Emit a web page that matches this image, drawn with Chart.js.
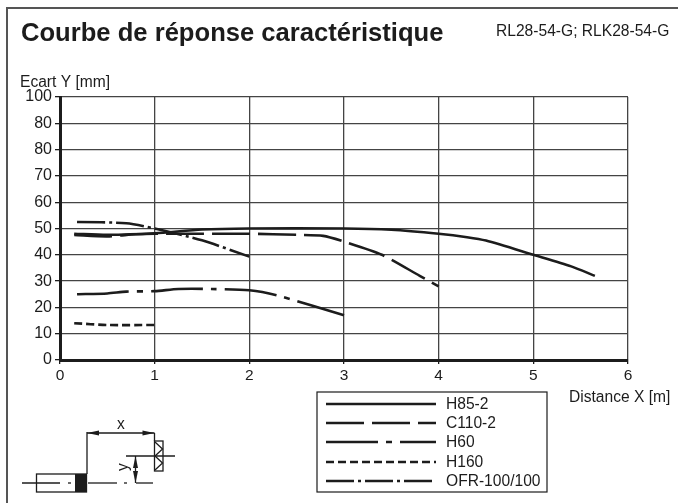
<!DOCTYPE html>
<html>
<head>
<meta charset="utf-8">
<title>Courbe de réponse caractéristique</title>
<script src="https://cdn.jsdelivr.net/npm/chart.js@4/dist/chart.umd.min.js"></script>
<style>
  html, body { margin: 0; padding: 0; background: #fff; }
  canvas { display: block; }
</style>
</head>
<body>
<canvas id="chart" width="678" height="503"></canvas>
<script>
const seriesNames = ['H85-2', 'C110-2', 'H60', 'H160', 'OFR-100/100'];

const h85 = [[0.15, 48], [0.5, 47.6], [1, 48.2], [1.5, 49.6], [2, 50], [3, 50], [3.5, 49.5], [4, 48], [4.3, 46.7], [4.5, 45.4], [5, 40], [5.4, 35.6], [5.65, 32]];
const c110 = [[0.15, 47.5], [0.5, 47], [0.8, 47.8], [1, 48], [1.5, 48], [2, 48], [2.5, 47.6], [2.78, 47.2], [3, 45], [3.4, 40], [3.8, 32], [4, 28]];
const h60 = [[0.18, 25], [0.5, 25.3], [0.7, 26], [1, 26.2], [1.25, 27], [1.6, 27], [2, 26.5], [2.3, 24.5], [3, 17]];
const h160 = [[0.15, 14], [0.5, 13.3], [1, 13.3]];
const ofr = [[0.18, 52.5], [0.7, 52], [1, 50], [1.5, 45.5], [2, 39.3]];

const xTicks = [0, 1, 2, 3, 4, 5, 6];
// the sheet really prints 80 twice, at 80 and at 90
const yTickLabels = ['0', '10', '20', '30', '40', '50', '60', '70', '80', '80', '100'];

const dashes = [[], [38, 8], [52, 8, 6, 8], [8, 4], [28, 4, 3, 4]];

const FONT = '"Liberation Sans", Arial, sans-serif';
const INK = '#1c1c1c';

function curve(name, points, dash) {
    return {
        label: name,
        data: points.map(p => ({ x: p[0], y: p[1] })),
        borderColor: INK,
        borderWidth: 2.6,
        borderDash: dash,
        pointRadius: 0,
        showLine: true,
        tension: 0.25,
        fill: false
    };
}

// text, legend box and the little sensor drawing around the plot
const sheet = {
    id: 'sheet',
    beforeDraw(chart) {
        const ctx = chart.ctx;
        ctx.save();
        ctx.fillStyle = '#fff';
        ctx.fillRect(0, 0, 678, 503);
        ctx.strokeStyle = '#555';
        ctx.lineWidth = 2;
        ctx.beginPath();
        ctx.moveTo(7, 503);
        ctx.lineTo(7, 8);
        ctx.lineTo(678, 8);
        ctx.stroke();
        ctx.restore();
    },
    afterDraw(chart) {
        const ctx = chart.ctx;
        ctx.save();
        ctx.fillStyle = INK;
        ctx.textBaseline = 'middle';
        ctx.font = 'bold 25.6px ' + FONT;
        ctx.fillText('Courbe de réponse caractéristique', 21, 34);
        ctx.font = '15.6px ' + FONT;
        ctx.fillText('RL28-54-G; RLK28-54-G', 496, 32);
        ctx.fillText('Ecart Y [mm]', 20, 83);
        ctx.fillText('Distance X [m]', 569, 398);

        // legend
        ctx.strokeStyle = INK;
        ctx.lineWidth = 1.2;
        ctx.strokeRect(317, 392, 230, 100);
        const rows = [404, 423, 442, 462, 481];
        chart.data.datasets.forEach((ds, i) => {
            ctx.beginPath();
            ctx.setLineDash(ds.borderDash);
            ctx.lineWidth = 2.6;
            ctx.moveTo(326, rows[i]);
            ctx.lineTo(436, rows[i]);
            ctx.stroke();
            ctx.setLineDash([]);
            ctx.fillText(ds.label, 446, rows[i] + 1);
        });

        drawSensor(ctx);
        ctx.restore();
    }
};

function seg(ctx, x1, y1, x2, y2) {
    ctx.beginPath();
    ctx.moveTo(x1, y1);
    ctx.lineTo(x2, y2);
    ctx.stroke();
}

function arrow(ctx, x, y, dx, dy) {
    ctx.beginPath();
    ctx.moveTo(x, y);
    ctx.lineTo(x + dx * 12 - dy * 2.5, y + dy * 12 - dx * 2.5);
    ctx.lineTo(x + dx * 12 + dy * 2.5, y + dy * 12 + dx * 2.5);
    ctx.closePath();
    ctx.fill();
}

function drawSensor(ctx) {
    ctx.lineWidth = 1.3;
    ctx.strokeRect(36.5, 474, 50, 18);
    ctx.fillRect(75, 474, 12, 18);

    // centre line
    seg(ctx, 22, 483, 60, 483);
    seg(ctx, 68, 483, 71, 483);
    seg(ctx, 88, 483, 117, 483);
    seg(ctx, 124, 483, 127, 483);
    seg(ctx, 136, 483, 153, 483);

    // x dimension
    seg(ctx, 87, 474, 87, 432);
    seg(ctx, 154.5, 433, 154.5, 441);
    seg(ctx, 87, 433, 154.5, 433);
    arrow(ctx, 87, 433, 1, 0);
    arrow(ctx, 154.5, 433, -1, 0);

    // reflector
    ctx.strokeRect(154.5, 441, 8.5, 30);
    ctx.beginPath();
    ctx.moveTo(155, 442);
    ctx.lineTo(162.5, 449);
    ctx.lineTo(155, 456);
    ctx.lineTo(162.5, 463);
    ctx.lineTo(155, 470);
    ctx.stroke();
    seg(ctx, 126, 456, 175, 456);

    // y dimension
    seg(ctx, 135.5, 456, 135.5, 483);
    arrow(ctx, 135.5, 456, 0, 1);
    arrow(ctx, 135.5, 483, 0, -1);

    ctx.font = '15.6px ' + FONT;
    ctx.textAlign = 'center';
    ctx.fillText('x', 121, 425);
    ctx.translate(124, 467);
    ctx.rotate(-Math.PI / 2);
    ctx.fillText('y', 0, 0);
}

new Chart(document.getElementById('chart'), {
    type: 'scatter',
    data: {
        datasets: [
            curve(seriesNames[0], h85, dashes[0]),
            curve(seriesNames[1], c110, dashes[1]),
            curve(seriesNames[2], h60, dashes[2]),
            curve(seriesNames[3], h160, dashes[3]),
            curve(seriesNames[4], ofr, dashes[4])
        ]
    },
    options: {
        responsive: false,
        animation: false,
        layout: { padding: { top: 97, right: 50, left: 0, bottom: 0 } },
        plugins: { legend: { display: false }, tooltip: { enabled: false } },
        scales: {
            x: {
                type: 'linear',
                min: xTicks[0],
                max: xTicks[xTicks.length - 1],
                afterFit: s => { s.height = 143; },
                afterBuildTicks: s => { s.ticks = xTicks.map(v => ({ value: v })); },
                border: { color: INK, width: 3 },
                grid: { color: '#444', lineWidth: 1.3, tickLength: 4, tickColor: INK },
                ticks: {
                    color: INK, padding: 2, maxRotation: 0,
                    font: { family: FONT, size: 15.5 }
                }
            },
            y: {
                type: 'linear',
                min: 0,
                max: 100,
                afterFit: s => { s.width = 60; },
                border: { color: INK, width: 3 },
                grid: { color: '#444', lineWidth: 1.3, tickLength: 5, tickColor: INK },
                ticks: {
                    color: INK, padding: 3, stepSize: 10,
                    font: { family: FONT, size: 16 },
                    callback: v => yTickLabels[v / 10]
                }
            }
        }
    },
    plugins: [sheet]
});
</script>
</body>
</html>
